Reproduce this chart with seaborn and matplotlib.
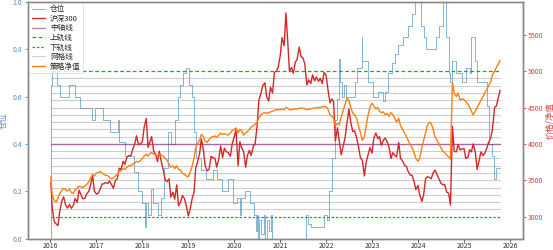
import numpy as np
import pandas as pd
import matplotlib
matplotlib.use("Agg")
import matplotlib.pyplot as plt
import matplotlib.dates as mdates
import seaborn as sns

sns.set_theme(style="ticks")
plt.rcParams["font.family"] = ["Noto Sans CJK SC", "DejaVu Sans"]
plt.rcParams["axes.unicode_minus"] = False

# ---------------- data (semi-monthly samples, 1st and 15th) ----------------
hs300_2016 = [3470, 3118, 2930, 2900, 2878, 3073, 3219, 3272, 3156, 3120, 3169, 3115,
              3154, 3250, 3196, 3365, 3300, 3245, 3253, 3310, 3350, 3430, 3570, 3350]
hs300_2017 = [3310, 3320, 3387, 3450, 3452, 3470, 3456, 3490, 3439, 3390, 3500, 3520,
              3666, 3650, 3760, 3720, 3822, 3840, 3837, 3920, 4000, 4110, 3990, 4000]
hs300_2018 = [4031, 4230, 4350, 3950, 4023, 4100, 3899, 3860, 3756, 3900, 3750, 3650,
              3510, 3480, 3520, 3270, 3335, 3240, 3438, 3150, 3200, 3290, 3250, 3160]
hs300_2019 = [3011, 3100, 3250, 3330, 3670, 3750, 3870, 4070, 3913, 3700, 3630, 3650,
              3830, 3810, 3800, 3680, 3800, 3970, 3814, 3940, 3890, 3880, 3830, 3990]
hs300_2020 = [4097, 4190, 3700, 4030, 3940, 3900, 3680, 3840, 3912, 3840, 3970, 4000,
              4250, 4600, 4700, 4800, 4840, 4650, 4590, 4780, 4700, 4980, 5000, 5050]
hs300_2021 = [5211, 5460, 5350, 5800, 5420, 5000, 5050, 4970, 5123, 5160, 5330, 5200,
              5180, 5100, 4810, 4880, 4830, 4950, 4866, 4920, 4860, 4900, 4830, 4980]
hs300_2022 = [4940, 4750, 4564, 4620, 4581, 4040, 4222, 4040, 3850, 3960, 4091, 4280,
              4480, 4300, 4170, 4180, 4079, 3960, 3804, 3780, 3560, 3750, 3854, 3950]
hs300_2023 = [3872, 4080, 4150, 4070, 4100, 3980, 4050, 4080, 4029, 3960, 3800, 3880,
              3842, 3820, 4020, 3800, 3765, 3710, 3690, 3620, 3570, 3570, 3480, 3370]
hs300_2024 = [3431, 3300, 3210, 3300, 3516, 3550, 3540, 3520, 3604, 3640, 3579, 3520,
              3460, 3440, 3440, 3340, 3321, 3160, 4240, 3900, 3890, 3990, 3916, 3930]
hs300_2025 = [3935, 3800, 3817, 3920, 3890, 4000, 3887, 3650, 3770, 3890, 3840, 3870,
              3940, 4020, 4075, 4200, 4500, 4520, 4640, 4740]

nav_2016 = [3550, 3300, 3220, 3200, 3250, 3320, 3360, 3390, 3370, 3350, 3380, 3330,
            3320, 3370, 3390, 3420, 3410, 3400, 3420, 3440, 3480, 3530, 3580, 3560]
nav_2017 = [3600, 3610, 3620, 3600, 3580, 3570, 3560, 3540, 3520, 3530, 3560, 3580,
            3620, 3630, 3660, 3650, 3680, 3700, 3700, 3720, 3740, 3760, 3750, 3770]
nav_2018 = [3800, 3830, 3860, 3830, 3870, 3880, 3860, 3850, 3840, 3860, 3850, 3830,
            3800, 3780, 3720, 3680, 3700, 3660, 3700, 3650, 3640, 3600, 3580, 3560]
nav_2019 = [3550, 3600, 3700, 3800, 3950, 4000, 4050, 4130, 4100, 4040, 4020, 4060,
            4090, 4100, 4110, 4090, 4120, 4150, 4130, 4140, 4130, 4120, 4150, 4180]
nav_2020 = [4200, 4220, 4150, 4200, 4180, 4120, 4150, 4170, 4200, 4230, 4250, 4270,
            4300, 4360, 4400, 4420, 4430, 4420, 4430, 4440, 4450, 4460, 4470, 4470]
nav_2021 = [4470, 4480, 4470, 4500, 4490, 4470, 4470, 4480, 4480, 4480, 4490, 4490,
            4490, 4480, 4470, 4480, 4480, 4490, 4490, 4500, 4500, 4500, 4510, 4510]
nav_2022 = [4510, 4480, 4400, 4380, 4350, 4250, 4280, 4260, 4380, 4450, 4550, 4630,
            4600, 4500, 4420, 4400, 4350, 4250, 4150, 4050, 4100, 4250, 4400, 4500]
nav_2023 = [4560, 4520, 4480, 4500, 4450, 4430, 4440, 4400, 4420, 4380, 4430, 4400,
            4350, 4300, 4350, 4250, 4200, 4150, 4100, 4050, 3980, 3950, 3880, 3800]
nav_2024 = [3760, 3800, 3950, 4050, 4150, 4250, 4300, 4280, 4200, 4100, 4050, 4000,
            3950, 3900, 3880, 3850, 3820, 3790, 4840, 4700, 4650, 4700, 4600, 4620]
nav_2025 = [4610, 4580, 4550, 4500, 4450, 4400, 4450, 4500, 4550, 4600, 4650, 4700,
            4745, 4800, 4850, 4950, 5000, 5050, 5100, 5150]

# position (step changes, decimal-year time stamps)
pos_time = [2016.00, 2016.005, 2016.02, 2016.04, 2016.06, 2016.11, 2016.15, 2016.215,
            2016.41, 2016.54, 2016.645, 2016.90, 2016.97, 2017.14, 2017.29, 2017.46,
            2017.50, 2017.61, 2017.81, 2017.91, 2017.98, 2018.05, 2018.07, 2018.13,
            2018.19, 2018.24, 2018.34, 2018.41, 2018.47, 2018.56, 2018.62, 2018.71,
            2018.77, 2018.82, 2018.88, 2018.95, 2019.01, 2019.08, 2019.12, 2019.16,
            2019.27, 2019.38, 2019.53, 2019.63, 2019.74, 2019.87, 2019.98, 2020.06,
            2020.13, 2020.15, 2020.24, 2020.34, 2020.43, 2020.47, 2020.49, 2020.52,
            2020.54, 2020.58, 2020.65, 2020.67, 2020.71, 2020.75, 2020.80, 2020.82,
            2021.57, 2021.61, 2021.68, 2021.96, 2022.02, 2022.06, 2022.13, 2022.19,
            2022.24, 2022.28, 2022.30, 2022.34, 2022.39, 2022.43, 2022.62, 2022.67,
            2022.77, 2022.79, 2022.92, 2023.01, 2023.14, 2023.23, 2023.29, 2023.35,
            2023.44, 2023.51, 2023.57, 2023.68, 2023.78, 2023.87, 2023.94, 2024.06,
            2024.13, 2024.17, 2024.39, 2024.45, 2024.54, 2024.62, 2024.67, 2024.70,
            2024.75, 2024.82, 2024.95, 2025.05, 2025.14, 2025.16, 2025.23, 2025.29,
            2025.51, 2025.55, 2025.60, 2025.66, 2025.70, 2025.79]
pos_value = [0.00, 0.60, 0.65, 0.70, 0.72, 0.70, 0.65, 0.60,
             0.65, 0.60, 0.55, 0.50, 0.55, 0.50, 0.45, 0.50,
             0.41, 0.35, 0.28, 0.20, 0.15, 0.05, 0.15, 0.10,
             0.21, 0.15, 0.10, 0.17, 0.30, 0.45, 0.40, 0.50,
             0.60, 0.65, 0.70, 0.72, 0.65, 0.60, 0.45, 0.34,
             0.29, 0.25, 0.29, 0.25, 0.20, 0.25, 0.15, 0.17,
             0.10, 0.17, 0.20, 0.15, 0.10, 0.03, 0.10, 0.00,
             0.08, 0.02, 0.10, 0.00, 0.08, 0.03, 0.10, 0.00,
             0.10, 0.06, 0.05, 0.10, 0.08, 0.20, 0.34, 0.50,
             0.59, 0.76, 0.66, 0.60, 0.65, 0.60, 0.66, 0.72,
             0.85, 0.75, 0.66, 0.60, 0.62, 0.58, 0.62, 0.70,
             0.74, 0.78, 0.82, 0.85, 0.90, 0.95, 1.00, 0.90,
             0.85, 0.80, 0.85, 0.90, 1.00, 0.85, 0.70, 0.66,
             0.75, 0.70, 0.66, 0.72, 0.70, 0.85, 0.75, 0.66,
             0.56, 0.40, 0.35, 0.25, 0.30, 0.30]

MID_LINE = 4000
UPPER_LINE = 5000
LOWER_LINE = 3000
GRID_LEVELS = list(range(3100, 5000, 100))

# ---------------- build frames ----------------
dates = pd.date_range("2016-01-01", "2025-10-15", freq="SMS")
dates = dates.insert(0, pd.Timestamp("2016-01-04")).delete(1)
hs300 = sum([hs300_2016, hs300_2017, hs300_2018, hs300_2019, hs300_2020,
             hs300_2021, hs300_2022, hs300_2023, hs300_2024, hs300_2025], [])
nav = sum([nav_2016, nav_2017, nav_2018, nav_2019, nav_2020,
           nav_2021, nav_2022, nav_2023, nav_2024, nav_2025], [])
df = pd.DataFrame({"date": dates, "hs300": hs300, "nav": nav})


def dec_to_date(y):
    yr = int(np.floor(y))
    return pd.Timestamp(f"{yr}-01-01") + pd.Timedelta(days=(y - yr) * 365.25)


pos_df = pd.DataFrame({"date": [dec_to_date(t) for t in pos_time], "pos": pos_value})
start, end = df["date"].iloc[0], df["date"].iloc[-1]
pos_df.loc[0, "date"] = start
pos_df.loc[len(pos_df) - 1, "date"] = end

# ---------------- plot ----------------
fig = plt.figure(figsize=(5.53, 2.5), dpi=100)
ax1 = fig.add_axes([0.051, 0.046, 0.894, 0.946])
ax2 = ax1.twinx()

c_pos = "#1f77b4"
c_red = "#d62728"
c_org = "#ff7f0e"
c_band = "#2ca02c"

sns.lineplot(data=pos_df, x="date", y="pos", ax=ax1, color=c_pos, alpha=0.55,
             linewidth=0.7, drawstyle="steps-post", label="仓位", legend=False)

sns.lineplot(data=df, x="date", y="hs300", ax=ax2, color=c_red, linewidth=1.0,
             label="沪深300", legend=False, zorder=4)
ax2.plot([start, end], [MID_LINE, MID_LINE], color="purple", alpha=0.5,
         linewidth=1.0, label="中轴线", zorder=3)
ax2.plot([start, end], [UPPER_LINE, UPPER_LINE], color=c_band, alpha=1.0,
         linewidth=0.9, linestyle=(0, (3, 2)), label="上轨线", zorder=3)
ax2.plot([start, end], [LOWER_LINE, LOWER_LINE], color=c_band, alpha=1.0,
         linewidth=0.9, linestyle=(0, (2, 1.5)), label="下轨线", zorder=3)
for i, lv in enumerate(GRID_LEVELS):
    ax2.plot([start, end], [lv, lv], color="gray", alpha=0.38, linewidth=0.8,
             label="网格线" if i == 0 else None, zorder=1)
sns.lineplot(data=df, x="date", y="nav", ax=ax2, color=c_org, linewidth=1.0,
             label="策略净值", legend=False, zorder=5)

ax1.set_zorder(1)
ax1.patch.set_visible(False)
ax2.set_zorder(2)
ax2.patch.set_visible(False)

ax1.set_ylim(0, 1.0)
ax1.set_yticks([0.0, 0.2, 0.4, 0.6, 0.8, 1.0])
ax2.set_ylim(2700, 5950)
ax2.set_yticks([3000, 3500, 4000, 4500, 5000, 5500])

ax1.xaxis.set_major_locator(mdates.YearLocator())
ax1.xaxis.set_major_formatter(mdates.DateFormatter("%Y"))

lab_blue = "#4f8cc9"
lab_red = "#d9413f"
ax1.set_xlabel("")
ax1.set_ylabel("仓位", color=lab_blue, fontsize=6, labelpad=3)
ax2.set_xlabel("")
ax2.set_ylabel("价格/净值", color=lab_red, fontsize=6, labelpad=1)
ax1.tick_params(axis="y", colors=lab_blue, labelsize=5, length=2.5, width=0.6, pad=2)
ax1.tick_params(axis="x", labelsize=5, length=2.0, width=0.6, pad=0.8, colors="#333333")
ax2.tick_params(axis="y", colors=lab_red, labelsize=5, length=2.5, width=0.6, pad=1.5)
for ax in (ax1, ax2):
    for s in ax.spines.values():
        s.set_color("#888888")
        s.set_linewidth(1.0)

h1, l1 = ax1.get_legend_handles_labels()
h2, l2 = ax2.get_legend_handles_labels()
leg = ax2.legend(h1 + h2, l1 + l2, loc="upper left", fontsize=5.5, frameon=True,
                 labelspacing=0.2, handlelength=1.7, borderpad=0.35,
                 handletextpad=0.7, borderaxespad=0.1)
leg.get_frame().set_linewidth(0.5)

fig.savefig("out.png", dpi=100)
